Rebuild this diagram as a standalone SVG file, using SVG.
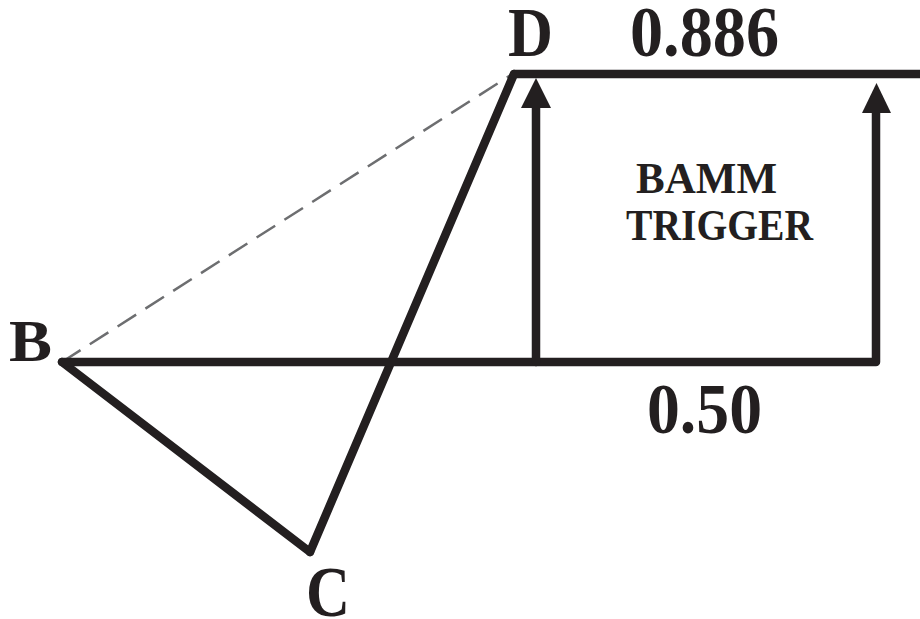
<svg xmlns="http://www.w3.org/2000/svg" width="920" height="619" viewBox="0 0 920 619">
<style>
.ln{fill:none;stroke:#231f20;stroke-width:8.5;stroke-linecap:round;stroke-linejoin:round}
.dash{fill:none;stroke:#6d6e70;stroke-width:2.5;stroke-dasharray:22 11}
.lbl{font-family:"Liberation Serif","Times New Roman",serif;font-weight:bold;fill:#231f20}
.head{fill:#231f20}
</style>
<rect width="920" height="619" fill="#ffffff"/>
<g id="connectors">
<line class="dash" x1="62" y1="362" x2="514" y2="73"/>
<line class="ln" x1="62" y1="362" x2="310" y2="552"/>
<line class="ln" x1="310" y1="552" x2="514" y2="74"/>
<path class="ln" d="M514,74 H924" stroke-linecap="butt"/>
<path class="ln" d="M62,362 H876 V108"/>
<line class="ln" x1="536" y1="362" x2="536" y2="104" stroke-linecap="butt"/>
<polygon class="head" points="521,108 551,108 536,78"/>
<polygon class="head" points="862,113 891,113 876.5,83"/>
</g>
<g id="node-B"><text class="lbl" x="9" y="361" font-size="60" textLength="43" lengthAdjust="spacingAndGlyphs">B</text></g>
<g id="node-C"><text class="lbl" x="306" y="616" font-size="71" textLength="44" lengthAdjust="spacingAndGlyphs">C</text></g>
<g id="node-D"><text class="lbl" x="508" y="56" font-size="69" textLength="45" lengthAdjust="spacingAndGlyphs">D</text></g>
<g id="label-0886"><text class="lbl" x="630" y="56" font-size="72" textLength="149" lengthAdjust="spacingAndGlyphs">0.886</text></g>
<g id="label-050"><text class="lbl" x="647" y="433" font-size="72" textLength="115" lengthAdjust="spacingAndGlyphs">0.50</text></g>
<g id="label-bamm">
<text class="lbl" x="636" y="193" font-size="45" textLength="141" lengthAdjust="spacingAndGlyphs">BAMM</text>
<text class="lbl" x="626" y="240" font-size="45" textLength="187" lengthAdjust="spacingAndGlyphs">TRIGGER</text>
</g>
</svg>
